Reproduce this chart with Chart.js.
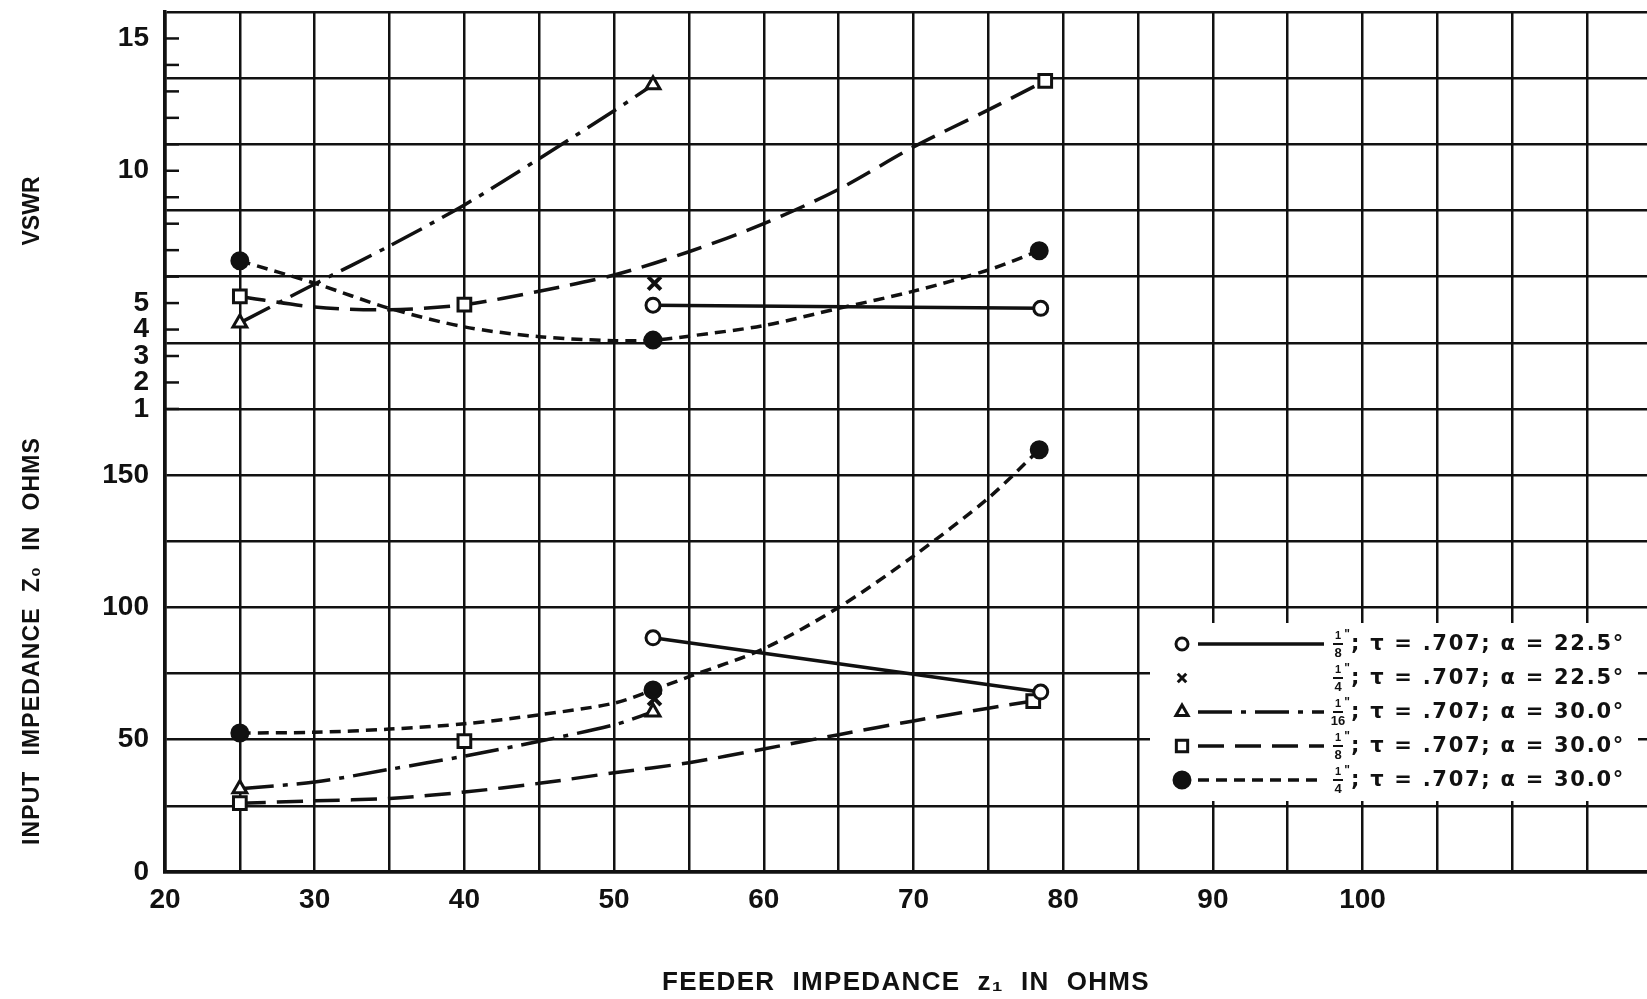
<!DOCTYPE html>
<html>
<head>
<meta charset="utf-8">
<script src="https://cdn.jsdelivr.net/npm/chart.js@4.4.1/dist/chart.umd.min.js"></script>
<style>
  html, body { margin: 0; padding: 0; background: #fff; }
  #wrap { width: 1647px; height: 999px; }
</style>
</head>
<body>
<div id="wrap"><canvas id="chart" width="1647" height="999"></canvas></div>
<script>
(function() {
  'use strict';

  // x axis: feeder impedance z1 (ohms)
  var xGrid = [20, 25, 30, 35, 40, 45, 50, 55, 60, 65, 70, 75, 80, 85, 90, 95, 100, 105, 110, 115];
  var xLabels = [20, 30, 40, 50, 60, 70, 80, 90, 100];

  // y axis: input impedance (lower part) and VSWR (upper part, same axis)
  var zLabels = [0, 50, 100, 150];
  var vswrLabels = [1, 2, 3, 4, 5, 10, 15];
  var vswrTicks = [1, 2, 3, 4, 5, 6, 7, 8, 9, 10, 11, 12, 13, 14, 15];

  // measured points (markers)
  var openX = [52.6, 78.5];
  var openVswr = [4.92, 4.8];
  var openZ = [88.5, 68];

  var crossX = [52.7];
  var crossVswr = [5.75];
  var crossZ = [65.5];

  var triX = [25, 52.6];
  var triVswr = [4.25, 13.25];
  var triZ = [31.5, 60.5];

  var sqVswrX = [25, 40, 78.8];
  var sqVswr = [5.25, 4.94, 13.4];
  var sqZX = [25, 40, 78.0];
  var sqZ = [26, 49.5, 64.6];

  var dotX = [25, 52.6, 78.4];
  var dotVswr = [6.6, 3.6, 6.98];
  var dotZ = [52.5, 68.8, 159.6];

  // faired curves
  var triCurveX = [25, 30, 35, 40, 45, 50, 52.6];
  var triCurveVswr = [4.25, 5.72, 7.16, 8.71, 10.46, 12.27, 13.25];
  var triCurveZ = [31.5, 34, 38.8, 43.8, 49.4, 55.6, 60.5];

  var sqCurveVswrX = [25, 30, 35, 40, 45, 50, 55, 60, 65, 70, 75, 78.8];
  var sqCurveVswr = [5.25, 4.85, 4.75, 4.94, 5.45, 6.06, 6.94, 8.0, 9.3, 10.9, 12.3, 13.4];
  var sqCurveZX = [25, 30, 35, 40, 45, 50, 55, 60, 65, 70, 75, 78.0];
  var sqCurveZ = [26, 26.9, 27.8, 30.2, 33.5, 37.5, 41.3, 46.5, 51.9, 57.1, 61.9, 64.6];

  var dotCurveX = [25, 30, 35, 40, 45, 50, 52.6, 55, 60, 65, 70, 75, 78.4];
  var dotCurveVswr = [6.6, 5.75, 4.8, 4.1, 3.73, 3.58, 3.6, 3.75, 4.15, 4.8, 5.45, 6.25, 6.98];
  var dotCurveZ = [52.5, 52.8, 54, 56, 59.4, 63.8, 68.8, 73.8, 84.4, 100, 119.4, 141.3, 159.6];

  // legend text
  var legendDen = ['8', '4', '16', '8', '4'];
  var legendAlpha = ['22.5°', '22.5°', '30.0°', '30.0°', '30.0°'];

  var INK = '#111';
  var FONT = '"Liberation Sans", Arial, sans-serif';
  var WIDE = '"DejaVu Sans", sans-serif';

  // VSWR v sits on the impedance axis at 175 + (v - 1) * 10
  function vswrToZ(v) { return 175 + (v - 1) * 10; }

  function pts(xs, ys) {
    return xs.map(function(x, i) { return { x: x, y: ys[i] }; });
  }

  var DASH_DOT = [34, 9, 5, 9];
  var LONG_DASH = [26, 11];
  var SHORT_DASH = [11, 7];

  function curve(xs, ys, axis, dash) {
    return {
      data: pts(xs, ys), yAxisID: axis, showLine: true, tension: 0.3,
      borderColor: INK, borderWidth: 3.5, borderDash: dash,
      pointRadius: 0, order: 2
    };
  }

  function marks(xs, ys, axis, style, radius, fill, line) {
    return {
      data: pts(xs, ys), yAxisID: axis, showLine: !!line,
      borderColor: INK, borderWidth: 3.5,
      pointStyle: style, pointRadius: radius,
      pointBackgroundColor: fill, pointBorderColor: INK,
      pointBorderWidth: style === 'crossRot' ? 4 : 3,
      order: 0
    };
  }

  var datasets = [
    marks(openX, openVswr, 'yV', 'circle', 7, '#fff', true),
    marks(openX, openZ, 'y', 'circle', 7, '#fff', true),
    marks(crossX, crossVswr, 'yV', 'crossRot', 9, INK, false),
    marks(crossX, crossZ, 'y', 'crossRot', 9, INK, false),
    marks(triX, triVswr, 'yV', 'triangle', 8, '#fff', false),
    marks(triX, triZ, 'y', 'triangle', 8, '#fff', false),
    marks(sqVswrX, sqVswr, 'yV', 'rect', 9, '#fff', false),
    marks(sqZX, sqZ, 'y', 'rect', 9, '#fff', false),
    marks(dotX, dotVswr, 'yV', 'circle', 8, INK, false),
    marks(dotX, dotZ, 'y', 'circle', 8, INK, false),
    curve(triCurveX, triCurveVswr, 'yV', DASH_DOT),
    curve(triCurveX, triCurveZ, 'y', DASH_DOT),
    curve(sqCurveVswrX, sqCurveVswr, 'yV', LONG_DASH),
    curve(sqCurveZX, sqCurveZ, 'y', LONG_DASH),
    curve(dotCurveX, dotCurveVswr, 'yV', SHORT_DASH),
    curve(dotCurveX, dotCurveZ, 'y', SHORT_DASH)
  ];

  var yTickValues = [];
  for (var z = 0; z <= 325; z += 25) yTickValues.push(z);
  vswrTicks.forEach(function(v) {
    if (yTickValues.indexOf(vswrToZ(v)) < 0) yTickValues.push(vswrToZ(v));
  });
  yTickValues.sort(function(a, b) { return a - b; });

  function yLabel(value) {
    if (value <= 150) return zLabels.indexOf(value) >= 0 ? String(value) : '';
    for (var i = 0; i < vswrLabels.length; i++) {
      if (vswrToZ(vswrLabels[i]) === value) return String(vswrLabels[i]);
    }
    return '';
  }

  // draw text stretched to a given width with letter spacing
  function spacedText(ctx, text, x, y, width) {
    ctx.letterSpacing = '0px';
    var w = ctx.measureText(text).width;
    var gap = Math.max(0, (width - w) / text.length);
    ctx.letterSpacing = gap.toFixed(2) + 'px';
    ctx.fillText(text, x, y);
    ctx.letterSpacing = '0px';
  }

  // short inward ticks for VSWR units, axis titles and the legend box
  var decor = {
    id: 'decor',
    afterDraw: function(chart) {
      var ctx = chart.ctx;
      var area = chart.chartArea;
      var yV = chart.scales.yV;

      ctx.save();
      ctx.strokeStyle = INK;
      ctx.lineWidth = 2.5;
      vswrTicks.forEach(function(v) {
        var py = yV.getPixelForValue(v);
        ctx.beginPath();
        ctx.moveTo(area.left, py);
        ctx.lineTo(area.left + 14, py);
        ctx.stroke();
      });

      ctx.fillStyle = INK;
      ctx.textAlign = 'center';
      ctx.textBaseline = 'middle';

      ctx.font = 'bold 23px ' + FONT;
      ctx.save();
      ctx.translate(33, 211);
      ctx.rotate(-Math.PI / 2);
      spacedText(ctx, 'VSWR', 0, 0, 66);
      ctx.restore();

      ctx.save();
      ctx.translate(33, 641);
      ctx.rotate(-Math.PI / 2);
      spacedText(ctx, 'INPUT  IMPEDANCE  Z\u2080  IN  OHMS', 0, 0, 408);
      ctx.restore();

      ctx.font = 'bold 26px ' + FONT;
      spacedText(ctx, 'FEEDER  IMPEDANCE  z\u2081  IN  OHMS', 906, 983, 488);

      // legend
      ctx.fillStyle = '#fff';
      ctx.fillRect(1150, 623, 488, 178);

      var rowY = [644, 678, 712, 746, 780];
      var styles = ['circle', 'crossRot', 'triangle', 'rect', 'circle'];
      var fills = ['#fff', INK, '#fff', '#fff', INK];
      var radii = [6, 6, 7, 8, 8];
      var dashes = [[], null, DASH_DOT, LONG_DASH, SHORT_DASH];

      rowY.forEach(function(y, i) {
        ctx.fillStyle = fills[i];
        ctx.strokeStyle = INK;
        ctx.lineWidth = 3;
        ctx.setLineDash([]);
        Chart.helpers.drawPoint(ctx, {
          pointStyle: styles[i], radius: radii[i], rotation: 0, borderWidth: 3
        }, 1182, y);

        if (dashes[i]) {
          ctx.setLineDash(dashes[i]);
          ctx.lineWidth = 3.5;
          ctx.beginPath();
          ctx.moveTo(1198, y);
          ctx.lineTo(1324, y);
          ctx.stroke();
          ctx.setLineDash([]);
        }

        // stacked fraction 1/n and inch mark
        ctx.fillStyle = INK;
        ctx.textAlign = 'center';
        ctx.font = 'bold 11px ' + FONT;
        ctx.fillText('1', 1338, y - 8);
        ctx.fillRect(1333, y - 1, 10, 2);
        ctx.font = 'bold 13px ' + FONT;
        ctx.fillText(legendDen[i], 1338, y + 9);
        ctx.font = 'bold 12px ' + FONT;
        ctx.fillText('"', 1347, y - 9);

        ctx.textAlign = 'left';
        ctx.font = 'bold 21px ' + WIDE;
        spacedText(ctx, '; \u03c4 = .707; \u03b1 = ' + legendAlpha[i], 1351, y + 1, 274);
      });
      ctx.restore();
    }
  };

  new Chart(document.getElementById('chart'), {
    type: 'scatter',
    data: { datasets: datasets },
    options: {
      responsive: false,
      animation: false,
      devicePixelRatio: 1,
      layout: { autoPadding: false, padding: { top: 12, right: 0, bottom: 0, left: 0 } },
      plugins: { legend: { display: false }, tooltip: { enabled: false } },
      scales: {
        x: {
          type: 'linear', position: 'bottom', min: 20, max: 119,
          afterBuildTicks: function(scale) {
            scale.ticks = xGrid.map(function(v) { return { value: v }; });
          },
          afterFit: function(scale) {
            scale.height = 127;
            scale.paddingLeft = 0;
            scale.paddingRight = 0;
          },
          ticks: {
            autoSkip: false, maxRotation: 0, padding: 11, color: INK,
            font: { family: FONT, size: 28, weight: 'bold' },
            callback: function(v) { return xLabels.indexOf(v) >= 0 ? String(v) : ''; }
          },
          grid: { color: INK, lineWidth: 2.5, drawTicks: false },
          border: { color: INK, width: 3.5 }
        },
        y: {
          type: 'linear', position: 'left', min: 0, max: 325,
          afterBuildTicks: function(scale) {
            scale.ticks = yTickValues.map(function(v) { return { value: v }; });
          },
          afterFit: function(scale) {
            scale.width = 165;
            scale.paddingTop = 0;
            scale.paddingBottom = 0;
          },
          ticks: {
            autoSkip: false, padding: 16, color: INK,
            font: { family: FONT, size: 28, weight: 'bold' },
            callback: function(v) { return yLabel(v); }
          },
          grid: {
            drawTicks: false, lineWidth: 2.5,
            color: function(c) { return c.tick && c.tick.value % 25 === 0 ? INK : 'rgba(0,0,0,0)'; }
          },
          border: { color: INK, width: 3.5 }
        },
        yV: { type: 'linear', display: false, min: -16.5, max: 16 }
      }
    },
    plugins: [decor]
  });
})();
</script>
</body>
</html>
